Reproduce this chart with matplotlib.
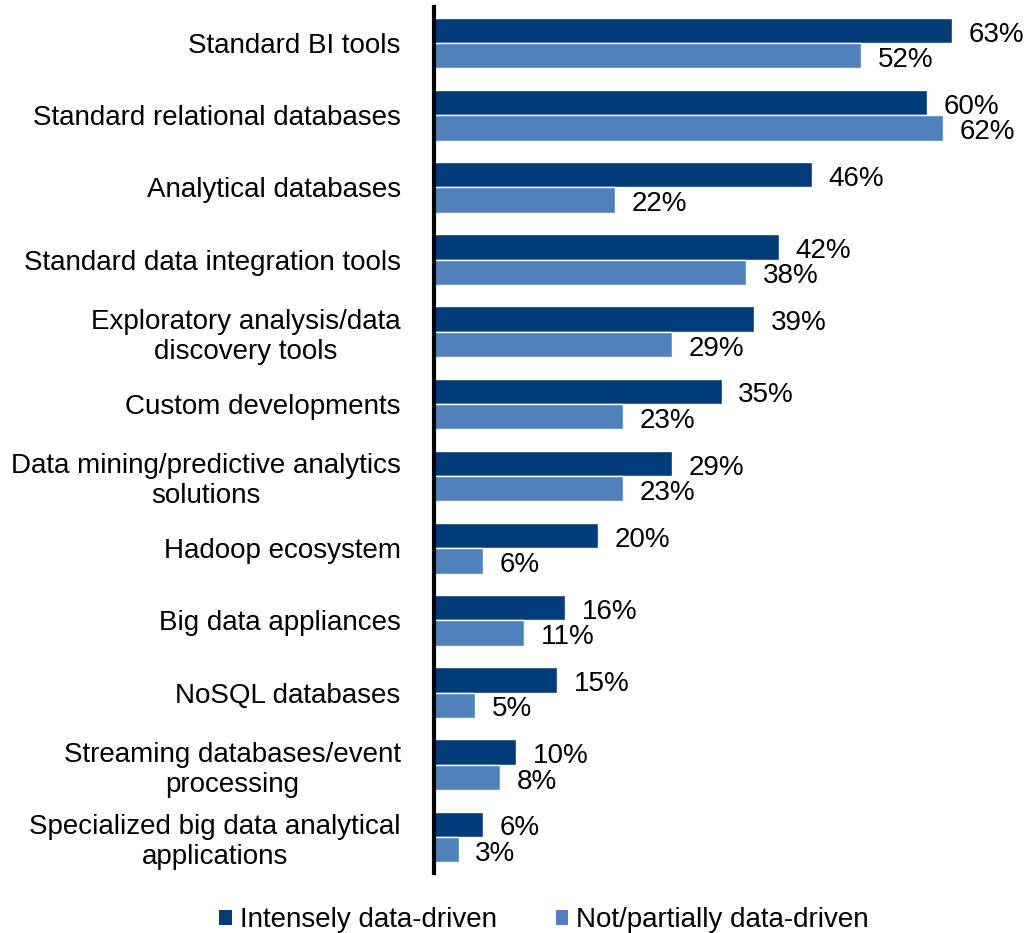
import numpy as np
import matplotlib.pyplot as plt
from matplotlib.patches import Patch

plt.rcParams["font.family"] = ["Liberation Sans", "DejaVu Sans"]

# 数据
categories = [
    "Standard BI tools",
    "Standard relational databases",
    "Analytical databases",
    "Standard data integration tools",
    "Exploratory analysis/data\ndiscovery tools",
    "Custom developments",
    "Data mining/predictive analytics\nsolutions",
    "Hadoop ecosystem",
    "Big data appliances",
    "NoSQL databases",
    "Streaming databases/event\nprocessing",
    "Specialized big data analytical\napplications",
]
intensely = [63, 60, 46, 42, 39, 35, 29, 20, 16, 15, 10, 6]
not_partially = [52, 62, 22, 38, 29, 23, 23, 6, 11, 5, 8, 3]
series_names = ["Intensely data-driven", "Not/partially data-driven"]
colors = ["#003B7A", "#4F81BD"]

fig = plt.figure(figsize=(10.27, 9.33), dpi=100, facecolor="white")
ax = fig.add_axes([434 / 1027, 60 / 933, 575 / 1027, 866 / 933])

y = np.arange(len(categories))
h = 0.35
ax.barh(y - h / 2, intensely, height=h, color=colors[0], edgecolor="white", linewidth=1)
ax.barh(y + h / 2, not_partially, height=h, color=colors[1], edgecolor="white", linewidth=1)

# 数值标签
for yi, v in zip(y, intensely):
    ax.annotate(f"{v}%", (v, yi - h / 2), xytext=(12, -3), textcoords="offset points",
                va="center", ha="left", fontsize=20)
for yi, v in zip(y, not_partially):
    ax.annotate(f"{v}%", (v, yi + h / 2), xytext=(12, -3), textcoords="offset points",
                va="center", ha="left", fontsize=20)

ax.set_xlim(0, 70)
ax.set_ylim(len(categories) - 0.5, -0.5)
ax.set_yticks(y)
ax.set_yticklabels(categories, fontsize=20, multialignment="center")
ax.tick_params(axis="y", length=0, pad=24)
ax.set_xticks([])
for s in ["top", "right", "bottom"]:
    ax.spines[s].set_visible(False)
ax.spines["left"].set_linewidth(3)
ax.spines["left"].set_color("black")

handles = [Patch(facecolor=c, edgecolor="none") for c in colors]
fig.legend(handles, series_names, loc="center", bbox_to_anchor=(0.53, 0.014),
           ncol=2, frameon=False, fontsize=20, handlelength=0.45, handleheight=0.45,
           handletextpad=0.3, columnspacing=2.1)

plt.savefig("out.png", dpi=100, facecolor="white")
